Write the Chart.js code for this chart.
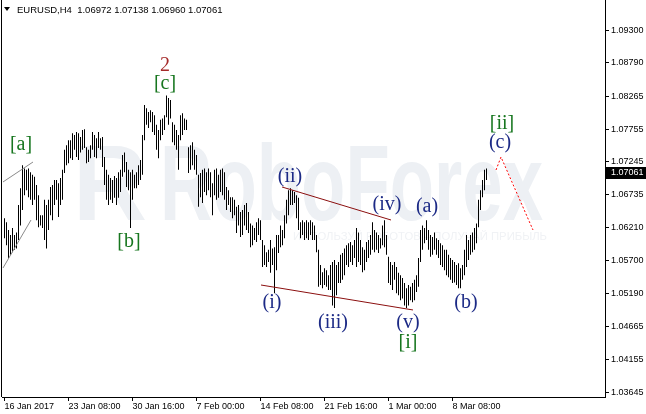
<!DOCTYPE html>
<html>
<head>
<meta charset="utf-8">
<script src="https://cdn.jsdelivr.net/npm/chart.js@4.4.1/dist/chart.umd.min.js"></script>
<style>
    html, body { margin: 0; padding: 0; background: #fff; }
    #wrap { width: 646px; height: 414px; }
</style>
</head>
<body>
<div id="wrap"><canvas id="eurusdChart" width="646" height="414"></canvas></div>
<script>
// EURUSD H4 bars, high / low (one entry per 4h bar)
const symbolName = 'EURUSD,H4';
const lastOHLC = [1.06972, 1.07138, 1.06960, 1.07061];

const highs = [
    1.0636, 1.0630, 1.0618, 1.0610, 1.0621, 1.0610, 1.0614, 1.0657, 1.0683, 1.0719,
    1.0714, 1.0712, 1.0714, 1.0708, 1.0704, 1.0701, 1.0688, 1.0672, 1.0641, 1.0641,
    1.0665, 1.0657, 1.0665, 1.0685, 1.0688, 1.0696, 1.0696, 1.0691, 1.0699, 1.0712,
    1.0743, 1.0750, 1.0758, 1.0758, 1.0769, 1.0766, 1.0771, 1.0769, 1.0763, 1.0774,
    1.0775, 1.0747, 1.0743, 1.0750, 1.0771, 1.0766, 1.0761, 1.0771, 1.0761, 1.0763,
    1.0732, 1.0712, 1.0704, 1.0699, 1.0696, 1.0702, 1.0699, 1.0708, 1.0712, 1.0735,
    1.0739, 1.0724, 1.0712, 1.0708, 1.0712, 1.0704, 1.0708, 1.0719, 1.0727, 1.0766,
    1.0813, 1.0808, 1.0802, 1.0805, 1.0802, 1.0797, 1.0782, 1.0774, 1.0790, 1.0792,
    1.0797, 1.0828, 1.0824, 1.0821, 1.0786, 1.0782, 1.0774, 1.0766, 1.0797, 1.0800,
    1.0792, 1.0790, 1.0747, 1.0750, 1.0755, 1.0743, 1.0735, 1.0704, 1.0707, 1.0712,
    1.0714, 1.0708, 1.0714, 1.0708, 1.0691, 1.0712, 1.0714, 1.0704, 1.0712, 1.0714,
    1.0708, 1.0685, 1.0680, 1.0669, 1.0669, 1.0665, 1.0654, 1.0657, 1.0646, 1.0649,
    1.0657, 1.0660, 1.0646, 1.0628, 1.0625, 1.0621, 1.0630, 1.0636, 1.0633, 1.0602,
    1.0594, 1.0583, 1.0587, 1.0602, 1.0589, 1.0591, 1.0610, 1.0610, 1.0625, 1.0618,
    1.0641, 1.0665, 1.0680, 1.0683, 1.0680, 1.0677, 1.0672, 1.0668, 1.0630, 1.0633,
    1.0630, 1.0633, 1.0630, 1.0633, 1.0630, 1.0625, 1.0610, 1.0587, 1.0563, 1.0552,
    1.0558, 1.0555, 1.0547, 1.0563, 1.0568, 1.0571, 1.0563, 1.0568, 1.0579, 1.0582,
    1.0589, 1.0594, 1.0597, 1.0599, 1.0594, 1.0602, 1.0621, 1.0614, 1.0602, 1.0591,
    1.0587, 1.0599, 1.0602, 1.0610, 1.0630, 1.0618, 1.0614, 1.0610, 1.0605, 1.0625,
    1.0633, 1.0610, 1.0576, 1.0568, 1.0563, 1.0568, 1.0560, 1.0551, 1.0547, 1.0543,
    1.0535, 1.0527, 1.0532, 1.0529, 1.0535, 1.0540, 1.0547, 1.0574, 1.0618, 1.0625,
    1.0621, 1.0633, 1.0618, 1.0610, 1.0607, 1.0614, 1.0605, 1.0602, 1.0597, 1.0594,
    1.0587, 1.0587, 1.0579, 1.0574, 1.0571, 1.0568, 1.0563, 1.0566, 1.0558, 1.0563,
    1.0587, 1.0610, 1.0602, 1.0610, 1.0614, 1.0621, 1.0628, 1.0665, 1.0680, 1.0696,
    1.0712, 1.07138
];

const lows = [
    1.0605, 1.0594, 1.0574, 1.0579, 1.0583, 1.0587, 1.0589, 1.0602, 1.0625, 1.0649,
    1.0672, 1.0680, 1.0669, 1.0665, 1.0657, 1.0665, 1.0633, 1.0622, 1.0625, 1.0621,
    1.0602, 1.0589, 1.0618, 1.0641, 1.0633, 1.0657, 1.0665, 1.0638, 1.0657, 1.0665,
    1.0707, 1.0719, 1.0722, 1.0730, 1.0727, 1.0743, 1.0732, 1.0727, 1.0739, 1.0743,
    1.0746, 1.0722, 1.0724, 1.0730, 1.0743, 1.0732, 1.0730, 1.0746, 1.0743, 1.0716,
    1.0688, 1.0665, 1.0657, 1.0665, 1.0660, 1.0668, 1.0657, 1.0668, 1.0677, 1.0701,
    1.0708, 1.0685, 1.0680, 1.0621, 1.0665, 1.0683, 1.0683, 1.0688, 1.0696, 1.0704,
    1.0758, 1.0782, 1.0777, 1.0786, 1.0771, 1.0766, 1.0743, 1.0730, 1.0758, 1.0766,
    1.0774, 1.0794, 1.0782, 1.0792, 1.0755, 1.0750, 1.0743, 1.0712, 1.0758, 1.0766,
    1.0774, 1.0774, 1.0707, 1.0712, 1.0719, 1.0712, 1.0704, 1.0654, 1.0669, 1.0660,
    1.0677, 1.0672, 1.0680, 1.0669, 1.0641, 1.0672, 1.0665, 1.0668, 1.0677, 1.0672,
    1.0665, 1.0649, 1.0657, 1.0646, 1.0636, 1.0641, 1.0613, 1.0625, 1.0607, 1.0610,
    1.0625, 1.0618, 1.0613, 1.0591, 1.0594, 1.0602, 1.0599, 1.0610, 1.0602, 1.0560,
    1.0563, 1.0560, 1.0568, 1.0551, 1.0563, 1.0519, 1.0555, 1.0582, 1.0591, 1.0594,
    1.0605, 1.0628, 1.0641, 1.0657, 1.0657, 1.0660, 1.0636, 1.0618, 1.0605, 1.0610,
    1.0602, 1.0605, 1.0602, 1.0610, 1.0602, 1.0602, 1.0583, 1.0529, 1.0532, 1.0527,
    1.0532, 1.0529, 1.0524, 1.0524, 1.0500, 1.0496, 1.0516, 1.0535, 1.0535, 1.0540,
    1.0547, 1.0563, 1.0560, 1.0568, 1.0563, 1.0574, 1.0560, 1.0568, 1.0563, 1.0552,
    1.0555, 1.0568, 1.0574, 1.0579, 1.0587, 1.0583, 1.0587, 1.0582, 1.0589, 1.0594,
    1.0591, 1.0579, 1.0535, 1.0532, 1.0524, 1.0540, 1.0519, 1.0516, 1.0508, 1.0511,
    1.0500, 1.0496, 1.0500, 1.0508, 1.0505, 1.0508, 1.0521, 1.0529, 1.0568, 1.0587,
    1.0597, 1.0602, 1.0587, 1.0576, 1.0579, 1.0587, 1.0579, 1.0574, 1.0563, 1.0560,
    1.0555, 1.0547, 1.0544, 1.0540, 1.0535, 1.0536, 1.0532, 1.0527, 1.0527, 1.0540,
    1.0547, 1.0560, 1.0571, 1.0579, 1.0583, 1.0587, 1.0597, 1.0622, 1.0649, 1.0669,
    1.0680, 1.06960
];

// time axis labels and the bar index each one sits on
const timeLabels = ['16 Jan 2017', '23 Jan 08:00', '30 Jan 16:00', '7 Feb 00:00',
    '14 Feb 08:00', '21 Feb 16:00', '1 Mar 00:00', '8 Mar 08:00'];
const timeLabelBars = [0, 32, 64, 96, 128, 160, 192, 224];

const priceTicks = [1.03645, 1.04155, 1.04665, 1.05190, 1.05700, 1.06210,
    1.06735, 1.07245, 1.07755, 1.08265, 1.08790, 1.09300];

// wave marks: text, bar index, price, degree
const waveText   = ['[a]', '[b]', '2', '[c]', '(i)', '(ii)', '(iii)', '(iv)', '(v)', '[i]', '(a)', '(b)', '(c)', '[ii]'];
const waveBar    = [8.25, 62.25, 80.25, 80.25, 133.75, 142.75, 164.25, 191.25, 201.75, 201.75, 211.25, 230.75, 247.75, 248.75];
const wavePrice  = [1.07505, 1.05991, 1.08739, 1.08458, 1.05038, 1.07006, 1.04726, 1.06569, 1.04726, 1.04413, 1.06537, 1.05038, 1.07537, 1.07833];
const waveDegree = ['minor', 'minor', 'inter', 'minor', 'minuette', 'minuette', 'minuette', 'minuette', 'minuette', 'minor', 'minuette', 'minuette', 'minuette', 'minor'];

// channel / trend lines as [bar, price] pairs
const greyLineTop    = [[-0.75, 1.06928], [14.25, 1.07240]];
const greyLineBottom = [[-0.75, 1.05585], [13.25, 1.06334]];
const channelTop     = [[138.75, 1.06850], [193.25, 1.06334]];
const channelBottom  = [[128.25, 1.05319], [204.25, 1.04929]];
const forecastPath   = [[245.75, 1.07115], [248.25, 1.07318], [264.25, 1.06178]];

const degreeColors = { minor: '#17761f', inter: '#a52a2a', minuette: '#1c2a86' };

const toPoints = arr => arr.map(p => ({ x: p[0], y: p[1] }));
const lineSet = (arr, color, dash) => ({
    type: 'line',
    data: toPoints(arr),
    borderColor: color,
    borderWidth: 1,
    borderDash: dash || [],
    pointRadius: 0,
    fill: false,
    tension: 0,
    order: 1
});

// watermark, frame and the text overlays of the terminal
const terminalDecor = {
    id: 'terminalDecor',
    beforeDatasetsDraw(chart) {
        const c = chart.ctx;
        c.save();
        c.fillStyle = '#edf0f4';
        c.font = 'bold 107px "Liberation Sans"';
        c.textBaseline = 'alphabetic';
        let w = c.measureText('RoboForex').width;
        c.save();
        c.translate(160, 220);
        c.scale(383 / w, 1);
        c.fillText('RoboForex', 0, 0);
        c.restore();
        w = c.measureText('R').width;
        c.save();
        c.translate(73, 220);
        c.scale(74 / w, 1);
        c.fillText('R', 0, 0);
        c.restore();
        c.fillStyle = '#f0f2f5';
        c.font = '11px "Liberation Sans"';
        const small = 'ИСПОЛЬЗУЙ РОБОТОВ – ПОЛУЧАЙ ПРИБЫЛЬ';
        w = c.measureText(small).width;
        c.translate(293, 240);
        c.scale(254 / w, 1);
        c.fillText(small, 0, 0);
        c.restore();
    },
    afterDraw(chart) {
        const c = chart.ctx;
        const { x, y } = chart.scales;
        const area = chart.chartArea;
        c.save();
        // left frame line
        c.strokeStyle = '#000';
        c.lineWidth = 1;
        c.beginPath();
        c.moveTo(1.5, 0);
        c.lineTo(1.5, area.bottom);
        c.stroke();

        // header
        c.fillStyle = '#000';
        c.beginPath();
        c.moveTo(4, 7);
        c.lineTo(10, 7);
        c.lineTo(7, 11);
        c.closePath();
        c.fill();
        c.font = '9.5px "Liberation Sans"';
        c.textBaseline = 'middle';
        c.textAlign = 'left';
        c.fillText(symbolName + '  ' + lastOHLC.map(v => v.toFixed(5)).join(' '), 17, 10);

        // wave labels
        c.font = '20px "Liberation Serif"';
        c.textAlign = 'center';
        c.textBaseline = 'middle';
        waveText.forEach((t, i) => {
            c.fillStyle = degreeColors[waveDegree[i]];
            c.fillText(t, x.getPixelForValue(waveBar[i]), y.getPixelForValue(wavePrice[i]));
        });

        // last price box
        const py = Math.round(y.getPixelForValue(lastOHLC[3]));
        c.fillStyle = '#000';
        c.fillRect(area.right + 1, py - 6, chart.width - area.right - 1, 12);
        c.fillStyle = '#fff';
        c.font = '9px "Liberation Sans"';
        c.textAlign = 'left';
        c.fillText(lastOHLC[3].toFixed(5), area.right + 6, py);
        c.restore();
    }
};

const barData = highs.map((h, i) => ({ x: i, y: [lows[i], h] }));

const ctx = document.getElementById('eurusdChart').getContext('2d');
const chart = new Chart(ctx, {
    type: 'bar',
    data: {
        datasets: [
            {
                type: 'bar',
                data: barData,
                backgroundColor: '#000',
                borderWidth: 0,
                barThickness: 1,
                inflateAmount: 0,
                order: 2
            },
            lineSet(greyLineTop, '#8a8a8a'),
            lineSet(greyLineBottom, '#8a8a8a'),
            lineSet(channelTop, '#8b0f0f'),
            lineSet(channelBottom, '#8b0f0f'),
            lineSet(forecastPath, '#ff0000', [2, 2])
        ]
    },
    options: {
        responsive: false,
        animation: false,
        devicePixelRatio: 1,
        layout: { padding: { left: 2, top: 0, right: 0, bottom: 0 } },
        plugins: {
            legend: { display: false },
            tooltip: { enabled: false }
        },
        scales: {
            x: {
                type: 'linear',
                position: 'bottom',
                offset: false,
                min: -1.25,
                max: 300.25,
                afterBuildTicks: s => { s.ticks = timeLabelBars.map(v => ({ value: v })); },
                afterFit: s => {
                    s.height = 17;
                    s.paddingLeft = 0;
                    s.paddingRight = 0;
                },
                grid: { offset: false, drawOnChartArea: false, drawTicks: true, tickLength: 4, color: '#000' },
                border: { display: true, color: '#000' },
                ticks: {
                    align: 'start',
                    labelOffset: 0,
                    padding: 0,
                    maxRotation: 0,
                    autoSkip: false,
                    color: '#000',
                    font: { family: 'Liberation Sans', size: 9 },
                    callback: v => {
                        const k = timeLabelBars.indexOf(v);
                        return k >= 0 ? timeLabels[k] : '';
                    }
                }
            },
            y: {
                position: 'right',
                min: 1.0357,
                max: 1.0977,
                afterBuildTicks: s => { s.ticks = priceTicks.map(v => ({ value: v })); },
                afterFit: s => {
                    s.width = 41;
                    s.paddingTop = 0;
                    s.paddingBottom = 0;
                },
                grid: { drawOnChartArea: false, drawTicks: true, tickLength: 4, color: '#000' },
                border: { display: true, color: '#000' },
                ticks: {
                    padding: 2,
                    color: '#000',
                    font: { family: 'Liberation Sans', size: 9 },
                    callback: v => Number(v).toFixed(5)
                }
            }
        }
    },
    plugins: [terminalDecor]
});
</script>
</body>
</html>
